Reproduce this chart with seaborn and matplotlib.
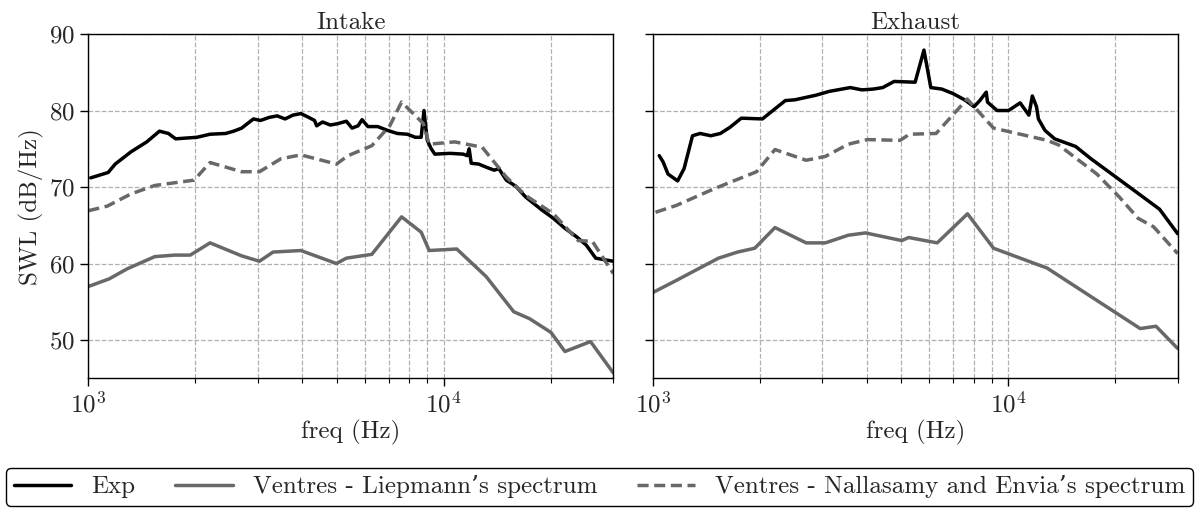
import matplotlib
matplotlib.use("Agg")
import matplotlib.pyplot as plt
from matplotlib.ticker import LogLocator, NullFormatter
import seaborn as sns
import pandas as pd

# ---- Intake ----
intake_exp_f = [1015, 1137, 1190, 1318, 1460, 1585, 1680, 1760, 2020, 2200, 2436, 2564, 2700,
                2914, 3050, 3228, 3398, 3577, 3765, 3963, 4170, 4330, 4390, 4560, 4800, 5050,
                5320, 5520, 5740, 5890, 6120, 6520, 6950, 7400, 7900, 8320, 8640, 8800, 8900,
                8990, 9220, 9440, 10430, 11340, 11650, 11790, 11950, 12540, 13160, 13870, 14290,
                15000, 15950, 17000, 18880, 20360, 21930, 23640, 25190, 26770, 30000]
intake_exp_swl = [71.2, 71.9, 73.0, 74.6, 75.9, 77.3, 77.0, 76.3, 76.5, 76.9, 77.0, 77.3, 77.7,
                  78.9, 78.7, 79.1, 79.3, 78.9, 79.4, 79.6, 79.1, 78.7, 78.0, 78.5, 78.1, 78.3,
                  78.6, 77.7, 78.0, 78.8, 77.9, 77.9, 77.4, 77.0, 76.9, 76.5, 76.5, 80.0, 77.8,
                  76.1, 75.0, 74.3, 74.4, 74.3, 74.1, 75.0, 73.1, 73.0, 72.6, 72.2, 72.4,
                  70.9, 70.1, 68.7, 67.0, 65.9, 64.6, 63.5, 62.4, 60.7, 60.3]

intake_liep_f = [1000, 1145, 1285, 1537, 1746, 1935, 2200, 2700, 3030, 3310, 3963, 4990, 5320,
                 6275, 7610, 8640, 9100, 10880, 13160, 15740, 17420, 20030, 21930, 25890, 30000]
intake_liep_swl = [57.0, 58.0, 59.3, 60.9, 61.1, 61.1, 62.7, 61.0, 60.3, 61.5, 61.7, 60.0, 60.7,
                   61.2, 66.1, 64.1, 61.7, 61.9, 58.3, 53.7, 52.8, 51.0, 48.5, 49.8, 45.7]

intake_nall_f = [1000, 1130, 1318, 1537, 1983, 2200, 2700, 3030, 3483, 3963, 4990, 5380, 6275,
                 7050, 7610, 8760, 9100, 10740, 12830, 15000, 17000, 20360, 22500, 23900, 26200, 30000]
intake_nall_swl = [66.9, 67.5, 69.1, 70.2, 70.9, 73.2, 72.0, 72.0, 73.7, 74.2, 73.0, 74.1, 75.4,
                   78.0, 81.1, 78.3, 75.6, 75.9, 75.2, 71.3, 68.9, 66.5, 64.3, 63.0, 62.9, 58.7]

# ---- Exhaust ----
exhaust_exp_f = [1043, 1069, 1104, 1175, 1225, 1294, 1359, 1457, 1550, 1649, 1775, 2035, 2361,
                 2512, 2879, 3138, 3597, 3876, 4170, 4438, 4778, 5475, 5797, 6060, 6510, 7010,
                 7540, 8020, 8325, 8680, 8750, 9310, 10030, 10810, 11440, 11700, 12020, 12170,
                 12700, 13520, 15490, 17100, 21660, 26680, 30000]
exhaust_exp_swl = [74.1, 73.3, 71.7, 70.8, 72.4, 76.7, 77.0, 76.7, 77.0, 77.8, 79.0, 78.9, 81.3,
                   81.4, 82.0, 82.5, 83.0, 82.7, 82.8, 83.0, 83.8, 83.7, 87.9, 83.0, 82.8, 82.2,
                   81.4, 80.5, 81.3, 82.4, 81.1, 80.0, 80.0, 81.0, 79.4, 81.9, 80.5, 78.9,
                   77.4, 76.3, 75.3, 73.7, 70.2, 67.1, 63.9]

exhaust_liep_f = [1000, 1166, 1531, 1733, 1937, 2208, 2702, 3060, 3551, 3970, 5021, 5251, 6316,
                  7688, 9100, 12880, 23530, 26070, 30000]
exhaust_liep_swl = [56.2, 57.8, 60.7, 61.5, 62.0, 64.7, 62.7, 62.7, 63.7, 64.0, 63.0, 63.4, 62.7,
                    66.5, 62.0, 59.4, 51.5, 51.8, 48.9]

exhaust_nall_f = [1018, 1166, 1493, 1960, 2208, 2702, 3060, 3551, 4019, 4967, 5278, 6271, 7670,
                  9100, 12880, 13870, 17770, 20550, 23230, 25670, 30000]
exhaust_nall_swl = [66.7, 67.6, 69.8, 72.0, 74.9, 73.5, 74.0, 75.6, 76.2, 76.1, 76.9, 77.0, 81.5,
                    77.7, 76.1, 75.5, 71.7, 68.7, 65.9, 64.8, 61.3]

series_labels = ["Exp", "Ventres - Liepmann\u2019s spectrum",
                 "Ventres - Nallasamy and Envia\u2019s spectrum"]
panel_titles = ["Intake", "Exhaust"]
y_ticks = [50, 60, 70, 80, 90]

sns.set_style("ticks")
plt.rcParams["font.family"] = ["cmr10", "DejaVu Serif"]
plt.rcParams["mathtext.fontset"] = "cm"
plt.rcParams["axes.formatter.use_mathtext"] = True
plt.rcParams["axes.unicode_minus"] = False

fs = 18
gray = "#686868"
styles = [dict(color="black", linestyle="-"),
          dict(color=gray, linestyle="-"),
          dict(color=gray, linestyle=(0, (3.2, 1.6)))]

fig = plt.figure(figsize=(11.99, 5.13), dpi=100)
ax1 = fig.add_axes([0.0737, 0.2626, 0.4378, 0.6711])
ax2 = fig.add_axes([0.5444, 0.2626, 0.4378, 0.6711], sharey=ax1)

panels = [
    (ax1, [(intake_exp_f, intake_exp_swl), (intake_liep_f, intake_liep_swl),
           (intake_nall_f, intake_nall_swl)]),
    (ax2, [(exhaust_exp_f, exhaust_exp_swl), (exhaust_liep_f, exhaust_liep_swl),
           (exhaust_nall_f, exhaust_nall_swl)]),
]

for (ax, data), title in zip(panels, panel_titles):
    for (f, s), lab, st in zip(data, series_labels, styles):
        df = pd.DataFrame({"freq": f, "SWL": s})
        sns.lineplot(data=df, x="freq", y="SWL", ax=ax, label=lab, linewidth=2.5,
                     sort=False, legend=False, **st)
    ax.set_xscale("log")
    ax.set_xlim(1000, 30000)
    ax.set_ylim(45, 90)
    ax.set_yticks(y_ticks)
    ax.xaxis.set_major_locator(LogLocator(base=10))
    ax.xaxis.set_minor_locator(LogLocator(base=10, subs=range(2, 10)))
    ax.xaxis.set_minor_formatter(NullFormatter())
    ax.grid(True, which="both", axis="x", linestyle="--", color="#b0b0b0", linewidth=0.9)
    ax.grid(True, which="major", axis="y", linestyle="--", color="#b0b0b0", linewidth=0.9)
    ax.set_axisbelow(True)
    ax.set_title(title, fontsize=fs, pad=3)
    ax.set_xlabel("freq (Hz)", fontsize=fs, labelpad=2)
    ax.tick_params(axis="both", which="major", labelsize=fs, length=6, width=1.0,
                   direction="out", color="black")
    ax.tick_params(axis="x", which="minor", length=3.5, width=0.8, color="black")
    for sp in ax.spines.values():
        sp.set_color("black")
        sp.set_linewidth(1.0)

ax1.set_ylabel("SWL (dB/Hz)", fontsize=fs, labelpad=4)
ax2.set_ylabel("")
ax2.tick_params(axis="y", labelleft=False)

handles, labels = ax1.get_legend_handles_labels()
leg = fig.legend(handles, labels, loc="lower center", bbox_to_anchor=(0.5, 0.004),
                 ncol=3, fontsize=fs, frameon=True, fancybox=True, edgecolor="black",
                 framealpha=1.0, handlelength=2.3, columnspacing=1.6, borderaxespad=0.2,
                 borderpad=0.3, handletextpad=0.8)
leg.get_frame().set_linewidth(1.0)

fig.savefig("out.png", dpi=100)
